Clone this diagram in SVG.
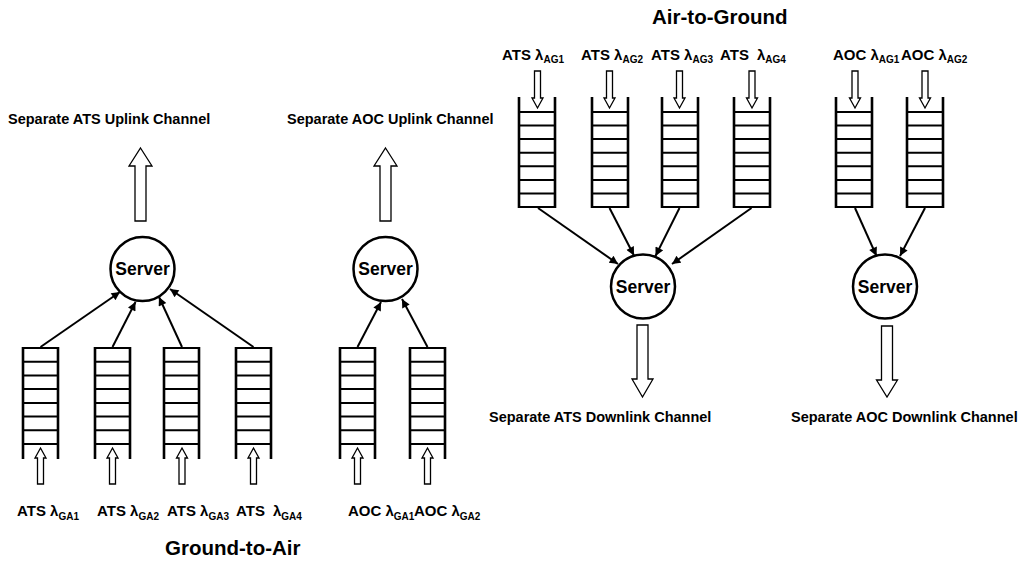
<svg xmlns="http://www.w3.org/2000/svg" xmlns:xlink="http://www.w3.org/1999/xlink" width="1024" height="563" viewBox="0 0 1024 563">
<style>
text{font-family:"Liberation Sans",Arial,sans-serif;font-weight:bold;fill:#000}
.lbl{font-size:15px}
.sub{font-size:10px}
.ttl{font-size:14.5px}
.big{font-size:20.5px}
.srv{font-size:17.5px;text-anchor:middle}
.qv{stroke:#000;stroke-width:2.6;fill:none}
.qh{stroke:#000;stroke-width:2;fill:none}
.circ{fill:#fff;stroke:#000;stroke-width:2.5}
.hol{fill:#fff;stroke:#000;stroke-width:1.3;stroke-linejoin:miter}
.con{stroke:#000;stroke-width:2;fill:none}
</style>
<defs>
<marker id="ah" viewBox="0 0 10 10" refX="10" refY="5" markerWidth="5" markerHeight="4.2" orient="auto" markerUnits="strokeWidth">
<path d="M0,0 L10,5 L0,10 z" fill="#000"/>
</marker>
<path id="sup" class="hol" d="M0,448 L5.5,458 L3,458 L3,484 L-3,484 L-3,458 L-5.5,458 Z"/>
<path id="sdn" class="hol" d="M-3,71 L3,71 L3,98 L5.5,98 L0,108 L-5.5,98 L-3,98 Z"/>
<g id="qga">
<path class="qv" d="M0,459 V347 M35,459 V347"/>
<path class="qh" d="M0,348 H35 M0,361.7 H35 M0,375.4 H35 M0,389.1 H35 M0,402.9 H35 M0,416.6 H35 M0,430.3 H35 M0,444 H35"/>
</g>
<g id="qag">
<path class="qv" d="M0,97 V208 M36,97 V208"/>
<path class="qh" d="M0,112 H36 M0,125.6 H36 M0,139.1 H36 M0,152.7 H36 M0,166.3 H36 M0,179.9 H36 M0,193.4 H36 M0,207 H36"/>
</g>
</defs>
<rect width="1024" height="563" fill="#fff"/>

<!-- Ground-to-Air queues -->
<g id="q-ga-ats1"><use xlink:href="#qga" transform="translate(23,0)"/></g>
<g id="q-ga-ats2"><use xlink:href="#qga" transform="translate(95,0)"/></g>
<g id="q-ga-ats3"><use xlink:href="#qga" transform="translate(164,0)"/></g>
<g id="q-ga-ats4"><use xlink:href="#qga" transform="translate(236,0)"/></g>
<g id="q-ga-aoc1"><use xlink:href="#qga" transform="translate(340,0)"/></g>
<g id="q-ga-aoc2"><use xlink:href="#qga" transform="translate(410,0)"/></g>

<!-- Air-to-Ground queues -->
<g id="q-ag-ats1"><use xlink:href="#qag" transform="translate(519,0)"/></g>
<g id="q-ag-ats2"><use xlink:href="#qag" transform="translate(592,0)"/></g>
<g id="q-ag-ats3"><use xlink:href="#qag" transform="translate(662,0)"/></g>
<g id="q-ag-ats4"><use xlink:href="#qag" transform="translate(734,0)"/></g>
<g id="q-ag-aoc1"><use xlink:href="#qag" transform="translate(836,0)"/></g>
<g id="q-ag-aoc2"><use xlink:href="#qag" transform="translate(907,0)"/></g>

<!-- Servers -->
<g id="srv-ga-ats"><circle class="circ" cx="142.5" cy="269" r="32"/><text class="srv" x="142.5" y="275">Server</text></g>
<g id="srv-ga-aoc"><circle class="circ" cx="385.5" cy="269" r="32"/><text class="srv" x="385.5" y="275">Server</text></g>
<g id="srv-ag-ats"><circle class="circ" cx="643" cy="286.5" r="32"/><text class="srv" x="643" y="292.5">Server</text></g>
<g id="srv-ag-aoc"><circle class="circ" cx="885" cy="286.5" r="32"/><text class="srv" x="885" y="292.5">Server</text></g>

<!-- Connectors -->
<g id="connectors">
<path class="con" marker-end="url(#ah)" d="M40.5,347 L120,292"/>
<path class="con" marker-end="url(#ah)" d="M112.5,347 L135.5,302"/>
<path class="con" marker-end="url(#ah)" d="M182,347 L159,297"/>
<path class="con" marker-end="url(#ah)" d="M253.5,347 L170,289"/>
<path class="con" marker-end="url(#ah)" d="M357.5,347 L381,302"/>
<path class="con" marker-end="url(#ah)" d="M427.5,347 L402,299"/>
<path class="con" marker-end="url(#ah)" d="M538,208 L618,264"/>
<path class="con" marker-end="url(#ah)" d="M609.5,208 L634,255.5"/>
<path class="con" marker-end="url(#ah)" d="M679.5,208 L655.5,256"/>
<path class="con" marker-end="url(#ah)" d="M751.5,208 L672,264"/>
<path class="con" marker-end="url(#ah)" d="M855,208 L876.5,256"/>
<path class="con" marker-end="url(#ah)" d="M925,208 L900,256"/>
</g>

<!-- Hollow flow arrows -->
<g id="flows">
<polygon class="hol" points="140.5,148 152,166 146,166 146,221 135,221 135,166 129,166"/>
<polygon class="hol" points="385.5,148 397,166 391,166 391,221 380,221 380,166 374,166"/>
<polygon class="hol" points="637,325 648,325 648,379 653,379 642.5,397 632,379 637,379"/>
<polygon class="hol" points="881.5,326 892.5,326 892.5,380 897.5,380 887,397 876.5,380 881.5,380"/>
<use xlink:href="#sup" x="40.5"/>
<use xlink:href="#sup" x="112.5"/>
<use xlink:href="#sup" x="182"/>
<use xlink:href="#sup" x="253.5"/>
<use xlink:href="#sup" x="357.5"/>
<use xlink:href="#sup" x="427.5"/>
<use xlink:href="#sdn" x="537.5"/>
<use xlink:href="#sdn" x="609.5"/>
<use xlink:href="#sdn" x="679.5"/>
<use xlink:href="#sdn" x="752"/>
<use xlink:href="#sdn" x="855"/>
<use xlink:href="#sdn" x="925"/>
</g>

<!-- Labels -->
<g id="labels">
<text class="ttl" x="8" y="123.5">Separate ATS Uplink Channel</text>
<text class="ttl" x="287" y="123.5">Separate AOC Uplink Channel</text>
<text class="ttl" x="489" y="422">Separate ATS Downlink Channel</text>
<text class="ttl" x="791" y="422">Separate AOC Downlink Channel</text>
<text class="big" x="652" y="24">Air-to-Ground</text>
<text class="big" x="165" y="555">Ground-to-Air</text>

<text class="lbl" x="17" y="516">ATS λ<tspan class="sub" dy="3.5">GA1</tspan></text>
<text class="lbl" x="97" y="516">ATS λ<tspan class="sub" dy="3.5">GA2</tspan></text>
<text class="lbl" x="167" y="516">ATS λ<tspan class="sub" dy="3.5">GA3</tspan></text>
<text class="lbl" x="236" y="516">ATS <tspan x="273">λ</tspan><tspan class="sub" dy="3.5">GA4</tspan></text>
<text class="lbl" x="348" y="516">AOC λ<tspan class="sub" dy="3.5">GA1</tspan></text>
<text class="lbl" x="414" y="516">AOC λ<tspan class="sub" dy="3.5">GA2</tspan></text>

<text class="lbl" x="502" y="59.5">ATS λ<tspan class="sub" dy="3.5">AG1</tspan></text>
<text class="lbl" x="581" y="59.5">ATS λ<tspan class="sub" dy="3.5">AG2</tspan></text>
<text class="lbl" x="651" y="59.5">ATS λ<tspan class="sub" dy="3.5">AG3</tspan></text>
<text class="lbl" x="720" y="59.5">ATS <tspan x="757">λ</tspan><tspan class="sub" dy="3.5">AG4</tspan></text>
<text class="lbl" x="833" y="59.5">AOC λ<tspan class="sub" dy="3.5">AG1</tspan></text>
<text class="lbl" x="901" y="59.5">AOC λ<tspan class="sub" dy="3.5">AG2</tspan></text>
</g>
</svg>
